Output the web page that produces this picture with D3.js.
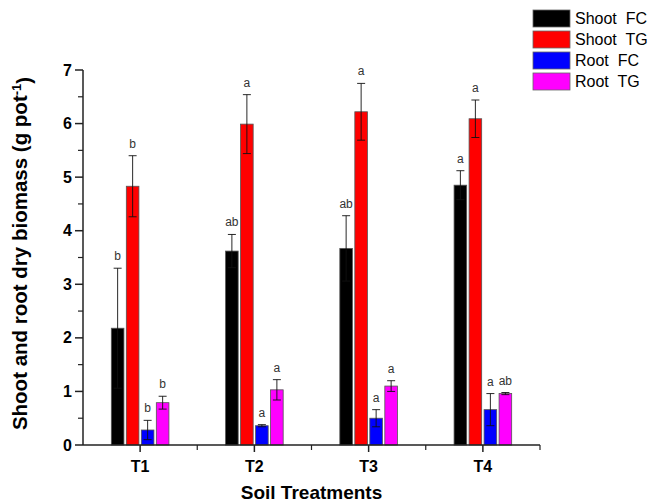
<!DOCTYPE html>
<html>
<head>
<meta charset="utf-8">
<script src="https://cdn.jsdelivr.net/npm/d3@7"></script>
<style>
  body { margin: 0; background: #fff; }
  text { font-family: "Liberation Sans", Arial, sans-serif; }
</style>
</head>
<body>
<svg id="chart" width="651" height="502"></svg>
<script>
const treatments = ['T1', 'T2', 'T3', 'T4']
const seriesNames = ['Shoot  FC', 'Shoot  TG', 'Root  FC', 'Root  TG']
const seriesColors = ['#000000', '#ff0000', '#0000ff', '#ff00ff']

// mean values per series, one entry per treatment
const shootFC = [2.18, 3.62, 3.67, 4.85]
const shootTG = [4.83, 5.99, 6.22, 6.09]
const rootFC = [0.28, 0.36, 0.50, 0.66]
const rootTG = [0.79, 1.03, 1.10, 0.96]

// error (± half range)
const shootFCErr = [1.12, 0.31, 0.61, 0.27]
const shootTGErr = [0.57, 0.55, 0.53, 0.35]
const rootFCErr = [0.18, 0.02, 0.16, 0.30]
const rootTGErr = [0.12, 0.19, 0.10, 0.02]

// significance letters
const shootFCLetters = ['b', 'ab', 'ab', 'a']
const shootTGLetters = ['b', 'a', 'a', 'a']
const rootFCLetters = ['b', 'a', 'a', 'a']
const rootTGLetters = ['b', 'a', 'a', 'ab']

const yTicks = [0, 1, 2, 3, 4, 5, 6, 7]

const values = [shootFC, shootTG, rootFC, rootTG]
const errors = [shootFCErr, shootTGErr, rootFCErr, rootTGErr]
const letters = [shootFCLetters, shootTGLetters, rootFCLetters, rootTGLetters]

const svg = d3.select('#chart')
const margin = { left: 83, right: 111, top: 70, bottom: 57 }
const width = 651 - margin.left - margin.right
const height = 502 - margin.top - margin.bottom

const g = svg.append('g')
  .attr('transform', `translate(${margin.left}, ${margin.top})`)

const x = d3.scaleLinear().domain([0.5, 4.5]).range([0, width])
const y = d3.scaleLinear().domain([0, 7]).range([height, 0])
const sub = d3.scaleBand().domain(d3.range(4)).range([-30, 30])
  .paddingInner(0.16).paddingOuter(0.08)

const bars = []
values.forEach((vals, s) => {
  vals.forEach((v, i) => {
    bars.push({ s, i, v, e: errors[s][i], l: letters[s][i] })
  })
})

const barX = d => x(d.i + 1) + sub(d.s)
const barMid = d => barX(d) + sub.bandwidth() / 2

g.selectAll('.bar')
  .data(bars)
  .enter()
  .append('rect')
  .attr('class', 'bar')
  .attr('x', barX)
  .attr('width', sub.bandwidth())
  .attr('y', d => y(d.v))
  .attr('height', d => y(0) - y(d.v))
  .attr('fill', d => seriesColors[d.s])
  .attr('stroke', '#555')
  .attr('stroke-width', 0.8)

const err = g.selectAll('.err')
  .data(bars)
  .enter()
  .append('g')
  .attr('class', 'err')
  .attr('stroke', '#111')
  .attr('stroke-width', 0.9)

err.append('line')
  .attr('x1', barMid).attr('x2', barMid)
  .attr('y1', d => y(d.v + d.e)).attr('y2', d => y(d.v - d.e))
err.append('line')
  .attr('x1', d => barMid(d) - 4).attr('x2', d => barMid(d) + 4)
  .attr('y1', d => y(d.v + d.e)).attr('y2', d => y(d.v + d.e))
err.append('line')
  .attr('x1', d => barMid(d) - 4).attr('x2', d => barMid(d) + 4)
  .attr('y1', d => y(d.v - d.e)).attr('y2', d => y(d.v - d.e))

g.selectAll('.letter')
  .data(bars)
  .enter()
  .append('text')
  .attr('class', 'letter')
  .attr('x', barMid)
  .attr('y', d => y(d.v + d.e) - 8)
  .attr('text-anchor', 'middle')
  .attr('font-size', '12px')
  .attr('fill', '#333')
  .text(d => d.l)

// y axis
const yAxis = g.append('g')
yAxis.append('line')
  .attr('x1', 0).attr('x2', 0).attr('y1', 0).attr('y2', height)
  .attr('stroke', '#222').attr('stroke-width', 1.5)
yAxis.selectAll('.ymaj')
  .data(yTicks)
  .enter()
  .append('line')
  .attr('x1', -8).attr('x2', 0)
  .attr('y1', d => y(d)).attr('y2', d => y(d))
  .attr('stroke', '#222').attr('stroke-width', 1.5)
yAxis.selectAll('.ymin')
  .data(yTicks.slice(0, -1))
  .enter()
  .append('line')
  .attr('x1', -5).attr('x2', 0)
  .attr('y1', d => y(d + 0.5)).attr('y2', d => y(d + 0.5))
  .attr('stroke', '#222').attr('stroke-width', 1.2)
yAxis.selectAll('.ylab')
  .data(yTicks)
  .enter()
  .append('text')
  .attr('x', -11)
  .attr('y', d => y(d))
  .attr('dy', '0.35em')
  .attr('text-anchor', 'end')
  .attr('font-size', '16px')
  .attr('font-weight', 'bold')
  .text(d => d)

// x axis
const xAxis = g.append('g').attr('transform', `translate(0, ${height})`)
xAxis.append('line')
  .attr('x1', 0).attr('x2', width)
  .attr('stroke', '#222').attr('stroke-width', 1.5)
xAxis.selectAll('.xmaj')
  .data(treatments)
  .enter()
  .append('line')
  .attr('x1', (d, i) => x(i + 1)).attr('x2', (d, i) => x(i + 1))
  .attr('y1', 0).attr('y2', 7)
  .attr('stroke', '#222').attr('stroke-width', 1.5)
xAxis.selectAll('.xmin')
  .data(treatments)
  .enter()
  .append('line')
  .attr('x1', (d, i) => x(i + 1.5)).attr('x2', (d, i) => x(i + 1.5))
  .attr('y1', 0).attr('y2', 5)
  .attr('stroke', '#222').attr('stroke-width', 1.2)
xAxis.selectAll('.xlab')
  .data(treatments)
  .enter()
  .append('text')
  .attr('x', (d, i) => x(i + 1))
  .attr('y', 27)
  .attr('text-anchor', 'middle')
  .attr('font-size', '16px')
  .attr('font-weight', 'bold')
  .text(d => d)

// axis titles
g.append('text')
  .attr('x', width / 2)
  .attr('y', height + 54)
  .attr('text-anchor', 'middle')
  .attr('font-size', '19px')
  .attr('font-weight', 'bold')
  .text('Soil Treatments')

const yTitle = g.append('text')
  .attr('transform', `translate(-56, ${height / 2 - 4}) rotate(-90)`)
  .attr('text-anchor', 'middle')
  .attr('font-size', '20.5px')
  .attr('font-weight', 'bold')
yTitle.append('tspan').text('Shoot and root dry biomass (g pot')
yTitle.append('tspan').attr('dy', '-0.5em').attr('font-size', '13px').text('-1')
yTitle.append('tspan').attr('dy', '0.5em').text(')')

// legend
const legend = svg.append('g').attr('transform', 'translate(533, 10)')
const item = legend.selectAll('.item')
  .data(seriesNames)
  .enter()
  .append('g')
  .attr('transform', (d, i) => `translate(0, ${i * 21})`)
item.append('rect')
  .attr('width', 37).attr('height', 17)
  .attr('fill', (d, i) => seriesColors[i])
  .attr('stroke', '#666').attr('stroke-width', 0.8)
item.append('text')
  .attr('x', 42)
  .attr('y', 8.5)
  .attr('dy', '0.36em')
  .attr('font-size', '16px')
  .attr('xml:space', 'preserve')
  .style('white-space', 'pre')
  .text(d => d)
</script>
</body>
</html>
